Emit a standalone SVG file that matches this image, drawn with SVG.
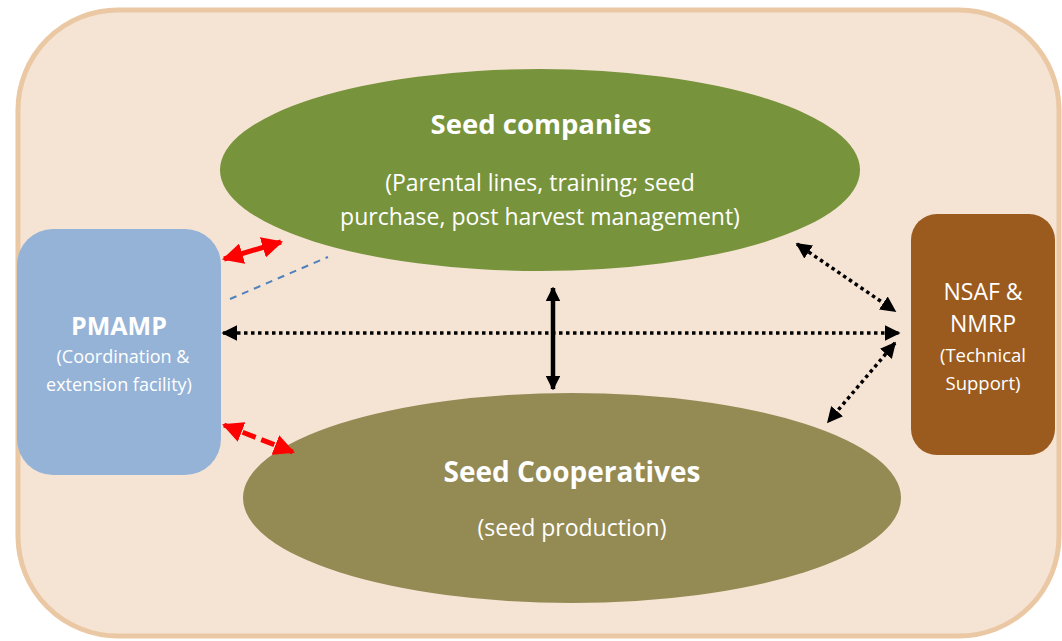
<svg xmlns="http://www.w3.org/2000/svg" width="1062" height="641" viewBox="0 0 1062 641">
<defs>
<style>
.t{font-family:"Open Sans",Lato,"Liberation Sans",sans-serif;fill:#fff;text-anchor:middle}
.b{font-weight:bold}
.dot{stroke:#000;stroke-width:3.5;stroke-dasharray:3.5 3.5;fill:none}
</style>
<marker id="bk" viewBox="0 0 10 10" refX="9" refY="5" markerWidth="4.5" markerHeight="4.5" orient="auto-start-reverse" markerUnits="strokeWidth"><path d="M0,0 L10,5 L0,10 z" fill="#000"/></marker>
<marker id="bk2" viewBox="0 0 10 10" refX="9" refY="5" markerWidth="3.2" markerHeight="3.2" orient="auto-start-reverse" markerUnits="strokeWidth"><path d="M0,0 L10,5 L0,10 z" fill="#000"/></marker>
<marker id="rd" viewBox="0 0 10 10" refX="9" refY="5" markerWidth="4.2" markerHeight="4.2" orient="auto-start-reverse" markerUnits="strokeWidth"><path d="M0,0 L10,5 L0,10 z" fill="#f00"/></marker>
</defs>
<rect x="18" y="10" width="1041" height="626" rx="100" fill="#F5E4D4" stroke="#EBC8A4" stroke-width="5"/>
<g id="seed-companies">
<ellipse cx="540" cy="170" rx="320" ry="101" fill="#77933C"/>
<text class="t b" x="541" y="134" font-size="27.5">Seed companies</text>
<text class="t" x="540" y="191" font-size="23">(Parental lines, training; seed</text>
<text class="t" x="540" y="225" font-size="23">purchase, post harvest management)</text>
</g>
<g id="seed-cooperatives">
<ellipse cx="572" cy="498" rx="329" ry="105" fill="#948A54"/>
<text class="t b" x="572" y="482" font-size="28">Seed Cooperatives</text>
<text class="t" x="572" y="536" font-size="23">(seed production)</text>
</g>
<g id="pmamp">
<rect x="17" y="229" width="204" height="246" rx="36" fill="#95B3D7"/>
<text class="t b" x="119" y="335" font-size="25">PMAMP</text>
<text class="t" x="123" y="363" font-size="18">(Coordination &amp;</text>
<text class="t" x="119" y="391" font-size="18">extension facility)</text>
</g>
<g id="nsaf">
<rect x="911" y="214" width="144" height="241" rx="26" fill="#9C5B1E"/>
<text class="t" x="983" y="300" font-size="23">NSAF &amp;</text>
<text class="t" x="983" y="332" font-size="23">NMRP</text>
<text class="t" x="983" y="362" font-size="18.5">(Technical</text>
<text class="t" x="983" y="390" font-size="18.5">Support)</text>
</g>
<g id="connectors">
<line x1="224" y1="259" x2="281" y2="242" stroke="#f00" stroke-width="5" marker-start="url(#rd)" marker-end="url(#rd)"/>
<line x1="230" y1="299" x2="328" y2="257" stroke="#4F81BD" stroke-width="2" stroke-dasharray="7 6"/>
<line x1="224" y1="425" x2="293" y2="452" stroke="#f00" stroke-width="5" stroke-dasharray="14 6" marker-start="url(#rd)" marker-end="url(#rd)"/>
<line x1="553" y1="288" x2="553" y2="389" stroke="#000" stroke-width="4.5" marker-start="url(#bk2)" marker-end="url(#bk2)"/>
<line class="dot" x1="223" y1="333" x2="899" y2="333" marker-start="url(#bk)" marker-end="url(#bk)"/>
<line class="dot" x1="797" y1="244" x2="895" y2="311" marker-start="url(#bk)" marker-end="url(#bk)"/>
<line class="dot" x1="895" y1="343" x2="828" y2="422" marker-start="url(#bk)" marker-end="url(#bk)"/>
</g>
</svg>
